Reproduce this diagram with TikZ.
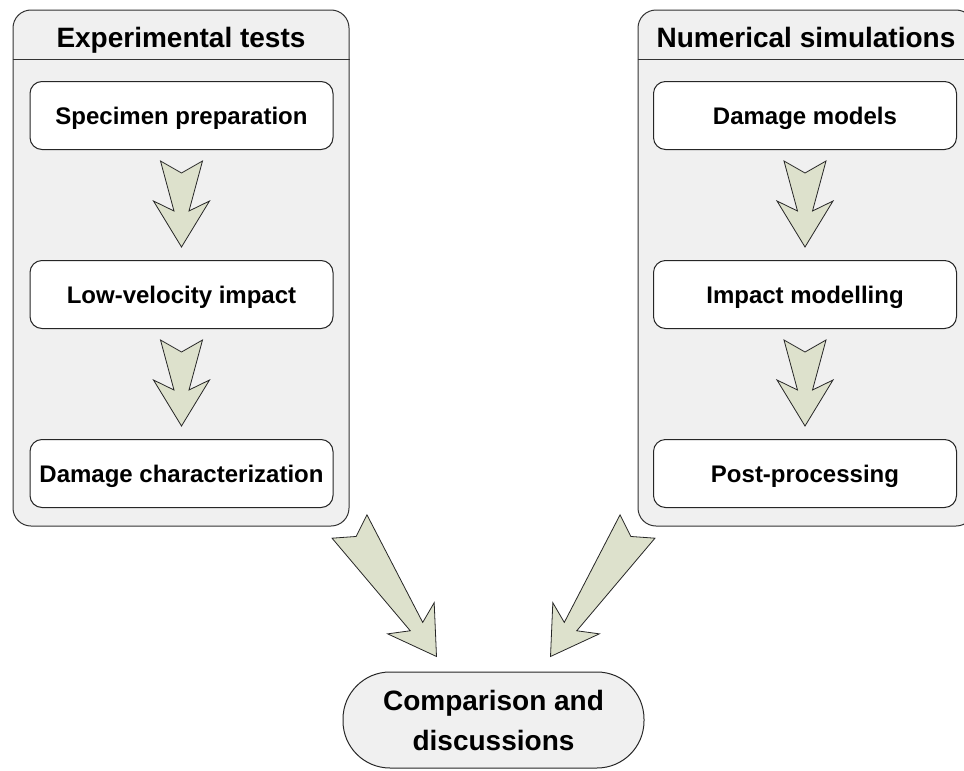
\documentclass[tikz,border=0pt]{standalone}
\usepackage{fontspec}
\setmainfont{Liberation Sans}
\usetikzlibrary{positioning,calc}

\definecolor{panelgray}{RGB}{240,240,240}
\definecolor{arrowgreen}{RGB}{221,225,204}

% fat notched arrow: tail anchor, tip anchor, gap at tail, gap at tip
\newcommand{\fatarrow}[4]{%
	\coordinate (fa1) at ($(#1)!#3!(#2)$);
	\coordinate (fa2) at ($(#2)!#4!(#1)$);
	\draw[fatarr] ($(fa1)!21pt!90:(fa2)$) -- ($(fa1)!12pt!(fa2)$) -- ($(fa1)!21pt!-90:(fa2)$)
		-- ($(fa2)!36pt!(fa1)!7.5pt!90:(fa1)$) -- ($(fa2)!46pt!(fa1)!28pt!90:(fa1)$) -- (fa2)
		-- ($(fa2)!46pt!(fa1)!28pt!-90:(fa1)$) -- ($(fa2)!36pt!(fa1)!7.5pt!-90:(fa1)$) -- cycle;
}

\begin{document}
\begin{tikzpicture}[x=1pt, y=-1pt,
	panel/.style={draw=black!80, fill=panelgray, line width=1pt, rounded corners=18pt, minimum width=336pt, minimum height=516pt},
	paneltitle/.style={font=\fontsize{28}{32}\selectfont\bfseries, text height=20pt, text depth=0pt},
	stepbox/.style={draw=black!85, fill=white, line width=1pt, rounded corners=12pt, minimum width=303pt, minimum height=68pt, inner sep=4pt, font=\fontsize{24}{28}\selectfont\bfseries, text height=17pt, text depth=0pt},
	endbox/.style={draw=black!85, fill=panelgray, line width=1pt, rounded corners=47pt, minimum width=301pt, minimum height=96pt, align=center, font=\fontsize{28}{40}\selectfont\bfseries},
	fatarr/.style={draw=black!85, fill=arrowgreen, line width=0.8pt},
	node distance=110pt,
	]
	\useasboundingbox (0,0) rectangle (964,771);
	%Panels
	\node[panel]       (exp)  at (181,268) {};
	\node[panel]       (num)  at (806,268) {};
	\draw[line width=1pt, black!80] ([yshift=-50pt]exp.north west) -- ([yshift=-50pt]exp.north east);
	\draw[line width=1pt, black!80] ([yshift=-50pt]num.north west) -- ([yshift=-50pt]num.north east);
	\node[paneltitle]  (expt) at (181,37) {Experimental tests};
	\node[paneltitle]  (numt) at (806,37) {Numerical simulations};
	
	%Nodes
	\node[stepbox]     (spec) at (181.5,115.5)   {Specimen preparation};
	\node[stepbox]     (lvi)  [below=of spec]    {Low-velocity impact};
	\node[stepbox]     (char) [below=of lvi]     {Damage characterization};
	\node[stepbox]     (dmg)  at (805,115.5)     {Damage models};
	\node[stepbox]     (imp)  [below=of dmg]     {Impact modelling};
	\node[stepbox]     (post) [below=of imp]     {Post-processing};
	\node[endbox]      (cmp)  at (493.5,720)     {Comparison and\\discussions};
	\coordinate (inl) at ($(cmp.north)+(-57,-15)$);
	\coordinate (inr) at ($(cmp.north)+(57,-15)$);
	
	%Arrows
	\fatarrow{spec.south}{lvi.north}{11pt}{13pt}
	\fatarrow{lvi.south}{char.north}{11pt}{13pt}
	\fatarrow{dmg.south}{imp.north}{11pt}{13pt}
	\fatarrow{imp.south}{post.north}{11pt}{13pt}
	\fatarrow{exp.south east}{inl}{0pt}{0pt}
	\fatarrow{num.south west}{inr}{0pt}{0pt}
\end{tikzpicture}
\end{document}
